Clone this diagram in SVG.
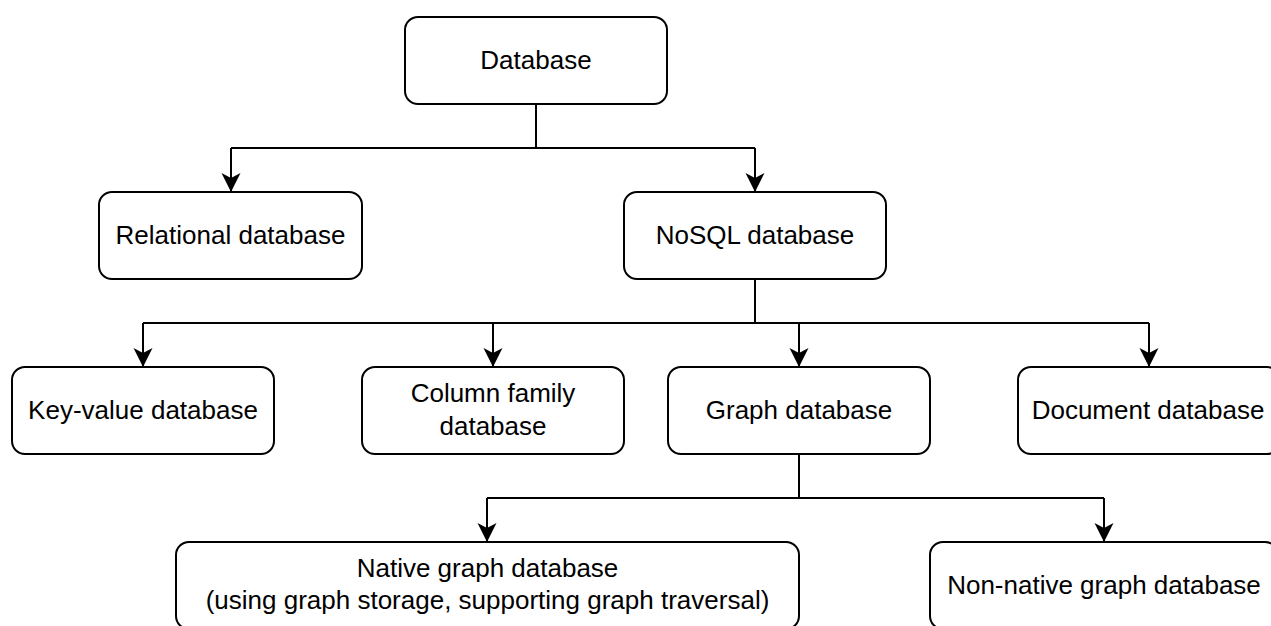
<svg xmlns="http://www.w3.org/2000/svg" width="1271" height="626" viewBox="0 0 1271 626">
  <style>
    .node rect { fill: #ffffff; stroke: #000000; stroke-width: 2; }
    .node text { font-family: "Liberation Sans", Arial, Helvetica, sans-serif; font-size: 26px; fill: #000000; text-anchor: middle; }
    .edge { fill: none; stroke: #000000; stroke-width: 2; }
    .edge.arrow { marker-end: url(#arrow); }
  </style>
  <defs>
    <marker id="arrow" markerUnits="userSpaceOnUse" markerWidth="20" markerHeight="20" viewBox="0 0 20 20" refX="19" refY="10" orient="auto">
      <path d="M19,10 L0,0.5 L5,10 L0,19.5 Z" fill="#000000"/>
    </marker>
  </defs>

  <rect width="1271" height="626" fill="#ffffff"/>

  <!-- connectors -->
  <g id="connectors">
    <!-- Database to its two children -->
    <path class="edge" d="M536,104 V148"/>
    <path class="edge" d="M536,148 H231"/>
    <path class="edge" d="M536,148 H755"/>
    <path class="edge arrow" d="M231,148 V192"/>
    <path class="edge arrow" d="M755,148 V192"/>

    <!-- NoSQL database to its four kinds -->
    <path class="edge" d="M755,279 V323"/>
    <path class="edge" d="M143,323 H1149"/>
    <path class="edge arrow" d="M143,323 V367"/>
    <path class="edge arrow" d="M493,323 V367"/>
    <path class="edge arrow" d="M799,323 V367"/>
    <path class="edge arrow" d="M1149,323 V367"/>

    <!-- Graph database to native / non-native -->
    <path class="edge" d="M799,454 V498"/>
    <path class="edge" d="M487,498 H1104"/>
    <path class="edge arrow" d="M487,498 V542"/>
    <path class="edge arrow" d="M1104,498 V542"/>
  </g>

  <g id="database" class="node">
    <rect x="405" y="17" width="262" height="87" rx="13"/>
    <text x="536" y="69">Database</text>
  </g>

  <g id="relational" class="node">
    <rect x="99" y="192" width="263" height="87" rx="13"/>
    <text x="230.5" y="244">Relational database</text>
  </g>

  <g id="nosql" class="node">
    <rect x="624" y="192" width="262" height="87" rx="13"/>
    <text x="755" y="244">NoSQL database</text>
  </g>

  <g id="key-value" class="node">
    <rect x="12" y="367" width="262" height="87" rx="13"/>
    <text x="143" y="419">Key-value database</text>
  </g>

  <g id="column-family" class="node">
    <rect x="362" y="367" width="262" height="87" rx="13"/>
    <text x="493" y="402">Column family</text>
    <text x="493" y="435">database</text>
  </g>

  <g id="graph" class="node">
    <rect x="668" y="367" width="262" height="87" rx="13"/>
    <text x="799" y="419">Graph database</text>
  </g>

  <g id="document" class="node">
    <rect x="1018" y="367" width="262" height="87" rx="13"/>
    <text x="1148" y="419">Document database</text>
  </g>

  <g id="native-graph" class="node">
    <rect x="176" y="542" width="623" height="87" rx="13"/>
    <text x="487.5" y="577">Native graph database</text>
    <text x="487.5" y="609">(using graph storage, supporting graph traversal)</text>
  </g>

  <g id="non-native-graph" class="node">
    <rect x="930" y="542" width="348" height="87" rx="13"/>
    <text x="1104" y="594">Non-native graph database</text>
  </g>
</svg>
